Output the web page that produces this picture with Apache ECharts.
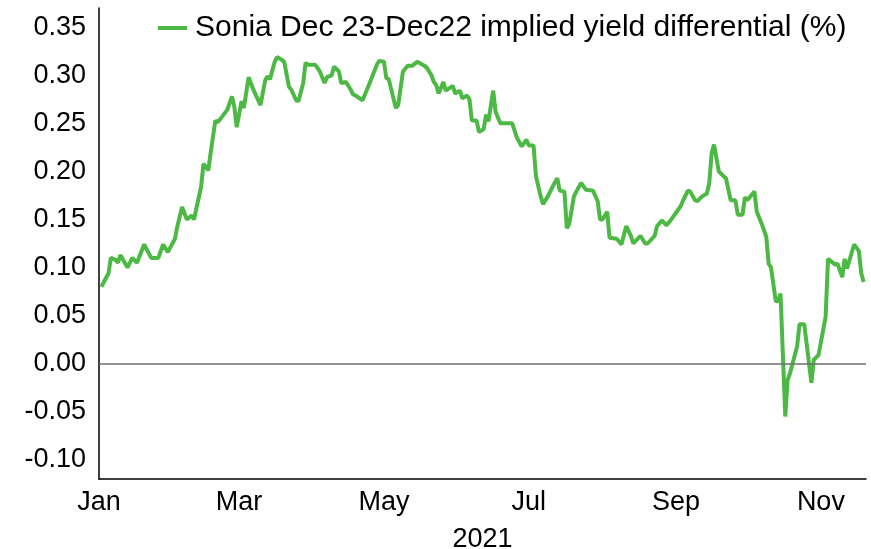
<!DOCTYPE html>
<html>
<head>
<meta charset="utf-8">
<script src="https://cdn.jsdelivr.net/npm/echarts@6/dist/echarts.min.js"></script>
<style>
  html, body { margin: 0; padding: 0; background: #fff; }
  #chart { width: 871px; height: 549px; }
</style>
</head>
<body>
<div id="chart"></div>
<script>
// dates (x axis), 2021
const dates = [
  '2021-01-02', '2021-01-05', '2021-01-06', '2021-01-08', '2021-01-09', '2021-01-10', '2021-01-13', '2021-01-15',
  '2021-01-17', '2021-01-20', '2021-01-23', '2021-01-26', '2021-01-28', '2021-01-30', '2021-02-02', '2021-02-03',
  '2021-02-05', '2021-02-07', '2021-02-09', '2021-02-10', '2021-02-13', '2021-02-14', '2021-02-16', '2021-02-17',
  '2021-02-19', '2021-02-20', '2021-02-24', '2021-02-26', '2021-02-27', '2021-02-28', '2021-03-02', '2021-03-03',
  '2021-03-05', '2021-03-07', '2021-03-10', '2021-03-12', '2021-03-13', '2021-03-14', '2021-03-16', '2021-03-17',
  '2021-03-19', '2021-03-20', '2021-03-22', '2021-03-23', '2021-03-25', '2021-03-26', '2021-03-28', '2021-03-29',
  '2021-03-30', '2021-04-02', '2021-04-04', '2021-04-06', '2021-04-07', '2021-04-09', '2021-04-10', '2021-04-12',
  '2021-04-13', '2021-04-15', '2021-04-17', '2021-04-18', '2021-04-19', '2021-04-22', '2021-04-24', '2021-04-25',
  '2021-04-28', '2021-04-29', '2021-05-01', '2021-05-02', '2021-05-03', '2021-05-06', '2021-05-07', '2021-05-09',
  '2021-05-11', '2021-05-13', '2021-05-15', '2021-05-18', '2021-05-19', '2021-05-21', '2021-05-22', '2021-05-23',
  '2021-05-24', '2021-05-26', '2021-05-27', '2021-05-30', '2021-05-31', '2021-06-02', '2021-06-03', '2021-06-05',
  '2021-06-06', '2021-06-07', '2021-06-09', '2021-06-10', '2021-06-12', '2021-06-13', '2021-06-14', '2021-06-16',
  '2021-06-17', '2021-06-19', '2021-06-21', '2021-06-24', '2021-06-26', '2021-06-28', '2021-06-30', '2021-07-01',
  '2021-07-03', '2021-07-04', '2021-07-06', '2021-07-07', '2021-07-09', '2021-07-11', '2021-07-13', '2021-07-14',
  '2021-07-16', '2021-07-17', '2021-07-18', '2021-07-20', '2021-07-21', '2021-07-23', '2021-07-25', '2021-07-28',
  '2021-07-30', '2021-07-31', '2021-08-01', '2021-08-03', '2021-08-04', '2021-08-07', '2021-08-08', '2021-08-09',
  '2021-08-11', '2021-08-13', '2021-08-14', '2021-08-17', '2021-08-19', '2021-08-20', '2021-08-23', '2021-08-24',
  '2021-08-26', '2021-08-28', '2021-08-30', '2021-09-03', '2021-09-04', '2021-09-06', '2021-09-07', '2021-09-09',
  '2021-09-10', '2021-09-12', '2021-09-14', '2021-09-15', '2021-09-16', '2021-09-17', '2021-09-19', '2021-09-21',
  '2021-09-22', '2021-09-24', '2021-09-26', '2021-09-27', '2021-09-29', '2021-09-30', '2021-10-01', '2021-10-04',
  '2021-10-05', '2021-10-07', '2021-10-09', '2021-10-10', '2021-10-11', '2021-10-13', '2021-10-14', '2021-10-15',
  '2021-10-17', '2021-10-18', '2021-10-19', '2021-10-22', '2021-10-23', '2021-10-25', '2021-10-28', '2021-10-29',
  '2021-10-31', '2021-11-03', '2021-11-04', '2021-11-07', '2021-11-08', '2021-11-10', '2021-11-11', '2021-11-12',
  '2021-11-15', '2021-11-17', '2021-11-18', '2021-11-19'
];

// implied yield differential (%)
const values = [
  0.080, 0.094, 0.110, 0.108, 0.105, 0.113, 0.100, 0.110,
  0.105, 0.124, 0.110, 0.110, 0.124, 0.116, 0.130, 0.143,
  0.163, 0.150, 0.154, 0.150, 0.184, 0.208, 0.201, 0.219,
  0.253, 0.251, 0.264, 0.278, 0.267, 0.246, 0.273, 0.266,
  0.298, 0.285, 0.269, 0.295, 0.299, 0.296, 0.314, 0.319,
  0.316, 0.314, 0.288, 0.285, 0.274, 0.273, 0.292, 0.313,
  0.311, 0.311, 0.304, 0.292, 0.298, 0.300, 0.309, 0.304,
  0.292, 0.293, 0.285, 0.280, 0.279, 0.274, 0.286, 0.292,
  0.311, 0.315, 0.314, 0.297, 0.296, 0.266, 0.269, 0.304,
  0.310, 0.310, 0.314, 0.310, 0.308, 0.300, 0.293, 0.290,
  0.281, 0.293, 0.284, 0.289, 0.281, 0.284, 0.276, 0.279,
  0.275, 0.253, 0.253, 0.241, 0.244, 0.259, 0.252, 0.284,
  0.262, 0.250, 0.250, 0.250, 0.235, 0.226, 0.233, 0.227,
  0.227, 0.195, 0.174, 0.166, 0.174, 0.184, 0.193, 0.180,
  0.179, 0.141, 0.145, 0.174, 0.179, 0.188, 0.181, 0.180,
  0.169, 0.150, 0.150, 0.158, 0.131, 0.130, 0.127, 0.124,
  0.143, 0.133, 0.125, 0.133, 0.125, 0.125, 0.133, 0.143,
  0.149, 0.144, 0.150, 0.164, 0.170, 0.180, 0.179, 0.170,
  0.169, 0.174, 0.177, 0.188, 0.219, 0.228, 0.200, 0.195,
  0.193, 0.170, 0.170, 0.155, 0.155, 0.173, 0.170, 0.179,
  0.158, 0.146, 0.132, 0.104, 0.100, 0.065, 0.065, 0.073,
  -0.055, -0.017, -0.010, 0.018, 0.041, 0.041, -0.020, 0.004,
  0.009, 0.049, 0.109, 0.103, 0.104, 0.090, 0.109, 0.099,
  0.124, 0.117, 0.094, 0.085
];

const xTicks = ['2021-01-01', '2021-03-01', '2021-05-01', '2021-07-01', '2021-09-01', '2021-11-01'];
const monthNames = ['Jan', 'Feb', 'Mar', 'Apr', 'May', 'Jun', 'Jul', 'Aug', 'Sep', 'Oct', 'Nov', 'Dec'];
const yTicks = [-0.10, -0.05, 0.00, 0.05, 0.10, 0.15, 0.20, 0.25, 0.30, 0.35];

const seriesName = 'Sonia Dec 23-Dec22 implied yield differential (%)';

const chart = echarts.init(document.getElementById('chart'), null, { renderer: 'canvas' });

const option = {
  animation: false,
  backgroundColor: '#fff',
  textStyle: { fontFamily: 'Arial, "Liberation Sans", sans-serif' },
  grid: { left: 99, right: 5, top: 8, bottom: 70, containLabel: false, outerBoundsMode: 'none' },
  legend: {
    data: [seriesName],
    left: 158,
    top: 13,
    padding: 0,
    icon: 'rect',
    itemWidth: 29,
    itemHeight: 4,
    textStyle: { fontSize: 30, color: '#000', padding: [0, 0, 0, 3] }
  },
  xAxis: {
    type: 'value',
    min: Date.parse('2021-01-01'),
    max: Date.parse('2021-11-20'),
    name: '2021',
    nameLocation: 'middle',
    nameGap: 47,
    nameTextStyle: { fontSize: 27, color: '#000' },
    axisLine: { onZero: false, lineStyle: { color: '#000', width: 1.5 } },
    axisTick: { show: false },
    splitLine: { show: false },
    axisLabel: {
      customValues: xTicks.map(d => Date.parse(d)),
      fontSize: 27,
      color: '#000',
      margin: 10,
      formatter: function (val) {
        return monthNames[new Date(val).getUTCMonth()];
      }
    }
  },
  yAxis: {
    type: 'value',
    min: -0.12,
    max: 0.37,
    axisLine: { show: true, onZero: false, lineStyle: { color: '#000', width: 1.5 } },
    axisTick: { show: false },
    splitLine: { show: false },
    axisLabel: {
      customValues: yTicks,
      fontSize: 27,
      color: '#000',
      margin: 13,
      formatter: function (v) { return v.toFixed(2); }
    }
  },
  series: [
    {
      // zero line, drawn under the data line
      name: 'zero',
      type: 'line',
      data: [],
      z: 1,
      silent: true,
      markLine: {
        silent: true,
        symbol: 'none',
        label: { show: false },
        lineStyle: { color: '#6e6e6e', width: 1.5, type: 'solid' },
        data: [{ yAxis: 0 }]
      }
    },
    {
      name: seriesName,
      type: 'line',
      z: 3,
      symbol: 'none',
      data: dates.map((d, i) => [Date.parse(d), values[i]]),
      lineStyle: { color: '#4cb944', width: 4 },
      itemStyle: { color: '#4cb944' }
    }
  ]
};

chart.setOption(option);
</script>
</body>
</html>
